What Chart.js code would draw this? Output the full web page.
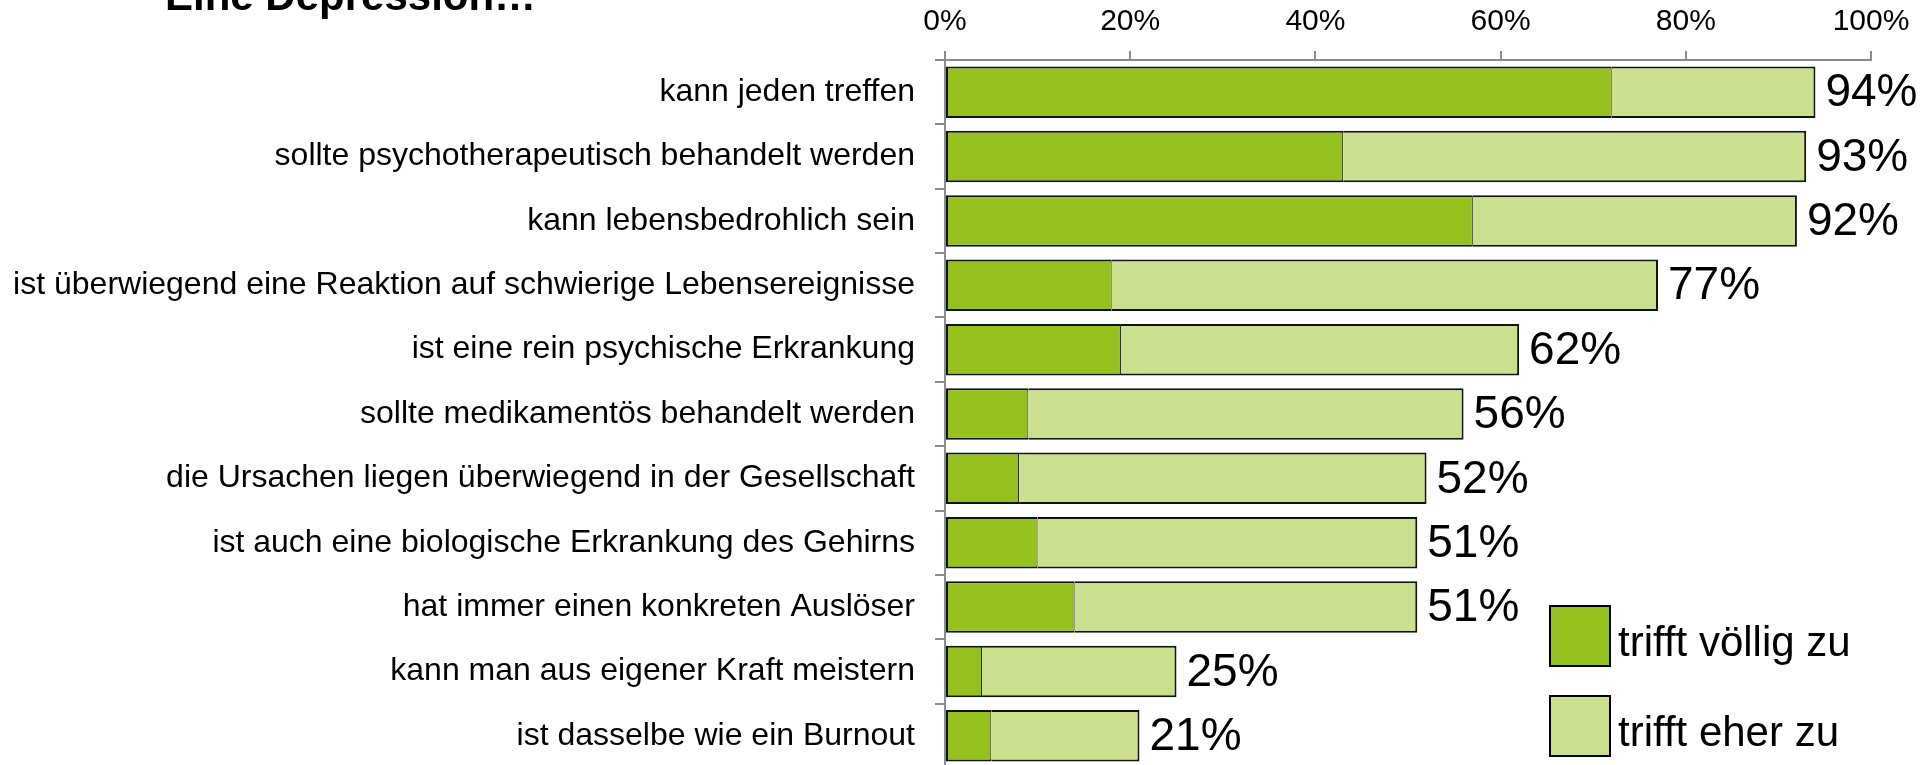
<!DOCTYPE html>
<html lang="de">
<head>
<meta charset="utf-8">
<title>Eine Depression…</title>
<script src="https://cdn.jsdelivr.net/npm/chart.js@4.4.1/dist/chart.umd.min.js"></script>
<style>
  html, body { margin: 0; padding: 0; background: #ffffff; overflow: hidden; }
  #wrap { position: relative; width: 1931px; height: 768px; }
</style>
</head>
<body>
<div id="wrap"><canvas id="chart" width="1931" height="768"></canvas></div>
<script>
const TITLE = 'Eine Depression…';

const categories = [
  'kann jeden treffen',
  'sollte psychotherapeutisch behandelt werden',
  'kann lebensbedrohlich sein',
  'ist überwiegend eine Reaktion auf schwierige Lebensereignisse',
  'ist eine rein psychische Erkrankung',
  'sollte medikamentös behandelt werden',
  'die Ursachen liegen überwiegend in der Gesellschaft',
  'ist auch eine biologische Erkrankung des Gehirns',
  'hat immer einen konkreten Auslöser',
  'kann man aus eigener Kraft meistern',
  'ist dasselbe wie ein Burnout'
];

// "trifft völlig zu" and "trifft eher zu" shares in percent
const fullyAgree = [72, 43, 57, 18, 19, 9, 8, 10, 14, 4, 5];
const ratherAgree = [22, 50, 35, 59, 43, 47, 44, 41, 37, 21, 16];
const seriesNames = ['trifft völlig zu', 'trifft eher zu'];

const xTickStep = 20;
const xMax = 100;

const FONT = '"Liberation Sans", Arial, Helvetica, sans-serif';
const AXIS_GREY = '#8c8c8c';

// Title at the top left, mostly cut off by the page edge
const titlePlugin = {
  id: 'titleText',
  afterDraw(chart) {
    const ctx = chart.ctx;
    ctx.save();
    ctx.font = 'bold 42px ' + FONT;
    ctx.fillStyle = '#000';
    ctx.textBaseline = 'alphabetic';
    ctx.fillText(TITLE, 165, 10);
    ctx.restore();
  }
};

// Total percentage written after the end of each stacked bar
const totalsPlugin = {
  id: 'totals',
  afterDatasetsDraw(chart) {
    const ctx = chart.ctx;
    const meta = chart.getDatasetMeta(1);
    ctx.save();
    ctx.font = '46px ' + FONT;
    ctx.fillStyle = '#000';
    ctx.textBaseline = 'middle';
    ctx.textAlign = 'left';
    meta.data.forEach((bar, i) => {
      const total = fullyAgree[i] + ratherAgree[i];
      ctx.fillText(total + '%', bar.x + 10, bar.y + 1.5);
    });
    ctx.restore();
  }
};

// Legend boxes in the lower right corner
const legendPlugin = {
  id: 'cornerLegend',
  afterDraw(chart) {
    const ctx = chart.ctx;
    ctx.save();
    chart.data.datasets.forEach((ds, i) => {
      const top = 605 + i * 90;
      ctx.fillStyle = '#000';
      ctx.fillRect(1549, top, 62, 62);
      ctx.fillStyle = ds.backgroundColor;
      ctx.fillRect(1551, top + 2, 58, 58);
      ctx.fillStyle = '#000';
      ctx.font = '42px ' + FONT;
      ctx.textBaseline = 'alphabetic';
      ctx.fillText(ds.label, 1618, top + 51);
    });
    ctx.restore();
  }
};

Chart.defaults.font.family = FONT;
Chart.defaults.color = '#000';

const ctx = document.getElementById('chart').getContext('2d');
new Chart(ctx, {
  type: 'bar',
  data: {
    labels: categories,
    datasets: [
      {
        label: seriesNames[0],
        data: fullyAgree,
        backgroundColor: '#95c11f',
        borderColor: '#111',
        borderWidth: { top: 2, bottom: 2, left: 2, right: 1 },
        borderSkipped: false
      },
      {
        label: seriesNames[1],
        data: ratherAgree,
        backgroundColor: '#cbe08f',
        borderColor: '#111',
        borderWidth: { top: 2, bottom: 2, left: 0, right: 2 },
        borderSkipped: false
      }
    ]
  },
  options: {
    indexAxis: 'y',
    responsive: false,
    animation: false,
    devicePixelRatio: 1,
    barPercentage: 0.8,
    categoryPercentage: 1.0,
    layout: { padding: { left: 0, right: 60, top: 0, bottom: 0 } },
    plugins: {
      legend: { display: false },
      tooltip: { enabled: false }
    },
    scales: {
      x: {
        position: 'top',
        stacked: true,
        min: 0,
        max: xMax,
        ticks: {
          stepSize: xTickStep,
          callback: v => v + '%',
          font: { size: 30 },
          color: '#000',
          padding: 11,
          maxRotation: 0
        },
        grid: {
          drawOnChartArea: false,
          drawTicks: true,
          tickLength: 9,
          color: AXIS_GREY,
          lineWidth: 2
        },
        border: { color: AXIS_GREY, width: 2 },
        afterFit: scale => { scale.height = 60; }
      },
      y: {
        stacked: true,
        ticks: {
          font: { size: 32 },
          color: '#000',
          padding: 20,
          autoSkip: false
        },
        grid: {
          offset: true,
          drawOnChartArea: false,
          drawTicks: true,
          tickLength: 10,
          color: AXIS_GREY,
          lineWidth: 2
        },
        border: { color: AXIS_GREY, width: 2 },
        afterFit: scale => {
          scale.width = 945;
          // the plot runs off the bottom edge, so no room is kept for label overhang
          scale.paddingTop = 0;
          scale.paddingBottom = 0;
        }
      }
    }
  },
  plugins: [titlePlugin, totalsPlugin, legendPlugin]
});
</script>
</body>
</html>
